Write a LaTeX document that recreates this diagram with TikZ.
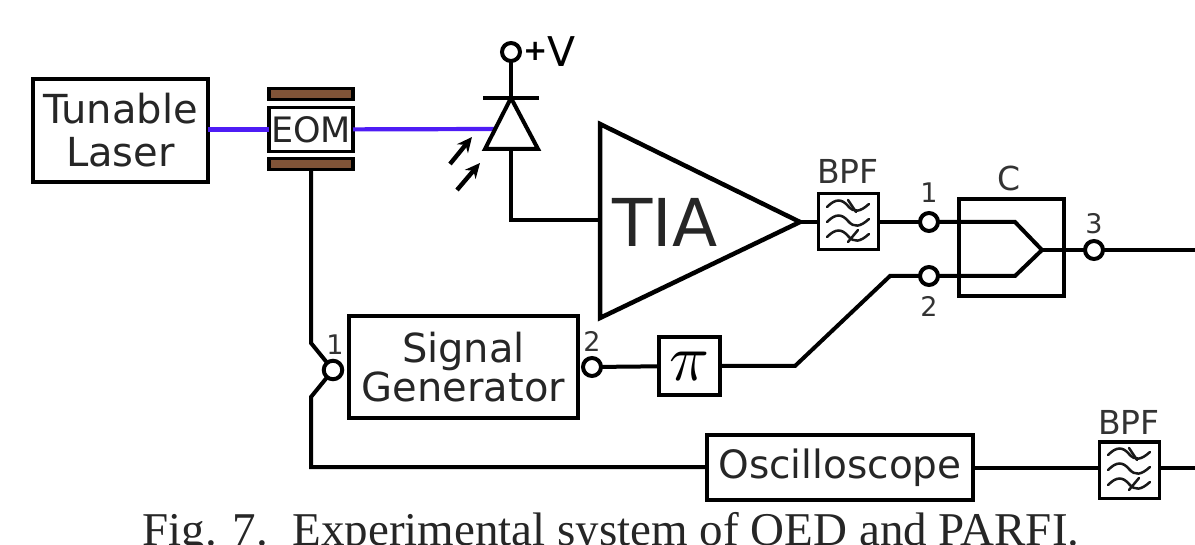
\documentclass[tikz,border=0pt]{standalone}
\usepackage{graphicx}
\usepackage{fontspec}
\setmainfont{DejaVu Sans}
\newfontfamily\capfont{Liberation Serif}
\newcommand{\fsz}[1]{\fontsize{#1}{#1}\selectfont}
\usetikzlibrary{arrows.meta}
\definecolor{beamblue}{RGB}{78,28,245}
\definecolor{brownbar}{RGB}{128,84,56}
\tikzset{
  x=1pt,y=-1pt,
  wire/.style={line width=4pt,black,line join=miter},
  beam/.style={line width=4.2pt,color=beamblue},
  boxn/.style={draw=black,line width=4.5pt,fill=white,inner sep=0pt,outer sep=0pt,align=center,text=black!85,anchor=north west},
  filterbox/.style={draw=black,line width=3pt,fill=white,inner sep=0pt,outer sep=0pt,minimum width=60pt,minimum height=56pt},
  port/.style={circle,draw=black,line width=4pt,fill=white,minimum size=18pt,inner sep=0pt,outer sep=0pt},
  lab/.style={inner sep=0pt,text=black!80},
  electrode/.style={draw=black,line width=3.4pt,fill=brownbar,inner sep=0pt,outer sep=0pt,minimum width=84pt,minimum height=10.5pt},
  light/.style={line width=4.4pt,-{Stealth[length=15pt,width=14pt]}},
  wave/.style={line width=2.5pt,black!90,line cap=round},
  filterglyph/.pic={
    \foreach \d in {-15,0,15}{
      \draw[wave] (-21,\d) .. controls (-12,\d-9) and (-6,\d-8) .. (0,\d-1) .. controls (6,\d+6) and (12,\d+5) .. (21,\d-3);
    }
    \draw[wave] (0,-22) -- (8,-10);
    \draw[wave] (0,20) -- (10,8);
  }
}
\begin{document}
\begin{tikzpicture}
\useasboundingbox (0,0) rectangle (1195,545);
\clip (0,0) rectangle (1195,545);
% bends and free ends
\coordinate (vbend1) at (311,343);
\coordinate (vbend2) at (311,397);
\coordinate (oscl) at (311,467);
\coordinate (diabend) at (511,220);
\coordinate (combtop) at (1015,222);
\coordinate (combbot) at (1015,276);
\coordinate (combtip) at (1042,250);
\coordinate (outr) at (1195,250);
\coordinate (outr2) at (1195,468);
\coordinate (pibendA) at (795,366);
\coordinate (pibendB) at (890,276);

% laser and modulator
\node[boxn,minimum width=175pt,minimum height=103pt,font=\fsz{40}] (laser) at (33,79) {Tunable\\[3pt]Laser};
\node[electrode] (eomtop) at (311,94) {};
\node[electrode] (eombot) at (311,164) {};
\node[draw=black,line width=3.4pt,fill=white,inner sep=0pt,outer sep=0pt,minimum width=84pt,minimum height=43.5pt,font=\fsz{35},text=black!85] (eom) at (311,129.5) {EOM};

% photodiode
\node[port] (vplus) at (511,52) {};
\node[lab,anchor=base west,text=black] (vlab) at (523,67) {\raisebox{6pt}{\fsz{29}\bfseries +}\fsz{41}V};
\coordinate (bar) at (511,98);
\coordinate (barL) at (483,98);
\coordinate (barR) at (539,98);
\coordinate (diodeL) at (485,149);
\coordinate (diodeR) at (538,149);
\coordinate (diodeB) at (511,149);
\coordinate (beamend) at (494,129);
\draw[beam] (laser.east |- eom) -- (eom);
\draw[beam] (eom) -- (beamend);
\draw[wire] (vplus) -- (bar);
\draw[wire] (barL) -- (barR);
\draw[wire] (bar) -- (diodeR) -- (diodeL) -- cycle;

% light arrows
\coordinate (a1s) at (450,164); \coordinate (a1e) at (472,137);
\coordinate (a2s) at (457,190); \coordinate (a2e) at (480,163);
\draw[light] (a1s) -- (a1e);
\draw[light] (a2s) -- (a2e);

% TIA
\coordinate (tiaA) at (600,124);
\coordinate (tiaB) at (600,318);
\coordinate (tiaTip) at (800,222);
\coordinate (tiaIn) at (600,220);
\draw[wire] (diodeB) -- (diabend) -- (tiaIn);
\draw[wire,line width=4.5pt] (tiaA) -- (tiaTip) -- (tiaB) -- cycle;
\node[lab,font=\fsz{66},text=black!85] (tia) at (665,222) {TIA};

% BPF 1
\node[filterbox] (bpfa) at (848,222) {};
\pic at (848,222) {filterglyph};
\node[lab,font=\fsz{33}] (bpfalab) at (848,171) {BPF};
\draw[wire] (tiaTip) -- (bpfa);

% combiner
\node[port] (p1) at (929,222) {};
\node[port] (p2) at (929,276) {};
\node[port] (p3) at (1094,250) {};
\node[lab,font=\fsz{27}] (p1lab) at (929,193) {1};
\node[lab,font=\fsz{27}] (p2lab) at (929,306) {2};
\node[lab,font=\fsz{27}] (p3lab) at (1094,224) {3};
\node[draw=black,line width=4.5pt,inner sep=0pt,outer sep=0pt,minimum width=105pt,minimum height=97pt] (comb) at (1011.5,247.5) {};
\node[lab,font=\fsz{33}] (clab) at (1009,178) {C};
\draw[wire] (bpfa) -- (p1);
\draw[wire] (p1) -- (combtop) -- (combtip) -- (combbot) -- (p2);
\draw[wire] (combtip) -- (p3);
\draw[wire] (p3) -- (outr);

% signal generator
\node[boxn,minimum width=229pt,minimum height=102pt,font=\fsz{40}] (sg) at (349,316) {Signal\\[-1pt]Generator};
\node[port,minimum size=18.5pt] (sg1) at (333,370) {};
\node[port] (sg2) at (592,367) {};
\node[lab,font=\fsz{27}] (sg1lab) at (335,345) {1};
\node[lab,font=\fsz{27}] (sg2lab) at (592,341) {2};
\node[draw=black,line width=3.6pt,fill=white,inner sep=0pt,outer sep=0pt,minimum width=61pt,minimum height=58pt] (pi) at (689.5,366) {\scalebox{6.6}{$\pi$}};
\draw[wire] (sg2) -- (pi);
\draw[wire] (pi) -- (pibendA) -- (pibendB) -- (p2);

% oscilloscope
\node[boxn,minimum width=266pt,minimum height=65pt,font=\fsz{39}] (osc) at (707,435) {\raisebox{-4pt}{Oscilloscope}};
\draw[wire] (eombot) -- (vbend1) -- (sg1);
\draw[wire] (sg1) -- (vbend2) -- (oscl) -- (osc.west |- oscl);

% BPF 2
\node[filterbox] (bpfb) at (1129,470) {};
\pic at (1129,470) {filterglyph};
\node[lab,font=\fsz{33}] (bpfblab) at (1129,422) {BPF};
\draw[wire] (osc.east |- outr2) -- (bpfb.west |- outr2);
\draw[wire] (bpfb.east |- outr2) -- (outr2);

% caption
\node[inner sep=0pt,anchor=base,font=\capfont\fsz{47},text=black!85] (caption) at (611,545) {Fig. 7.\hspace{9pt} Experimental system of OED and PARFI.};
\end{tikzpicture}
\end{document}
